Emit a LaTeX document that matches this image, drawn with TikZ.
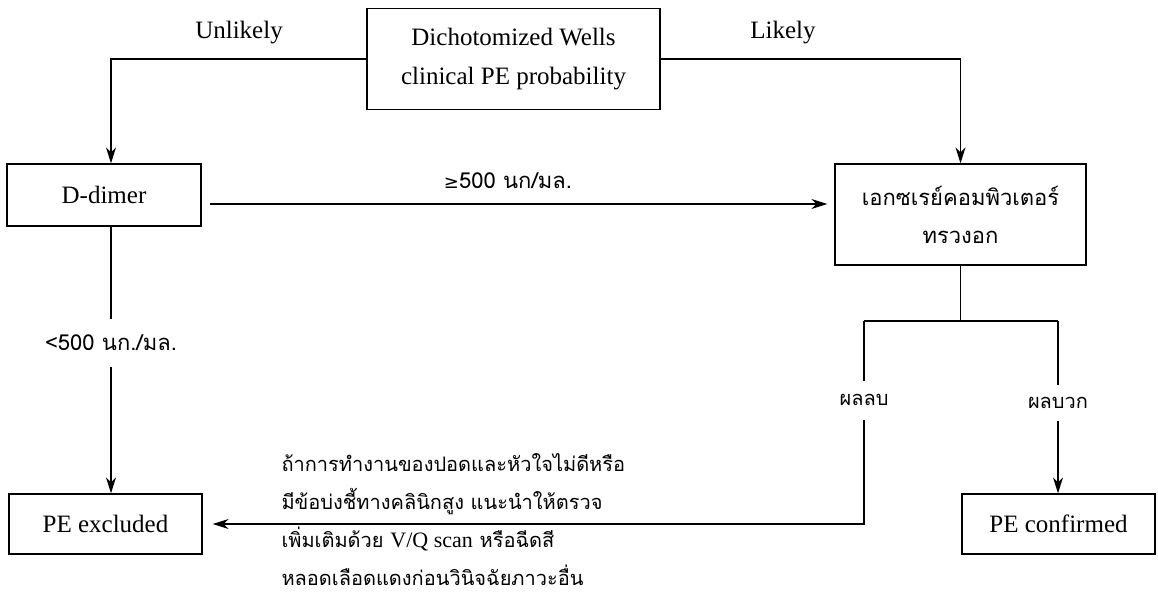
\documentclass[tikz,border=0pt]{standalone}
\usepackage{fontspec}
\setmainfont{Liberation Serif}
\newfontfamily\thai[Script=Thai]{Loma}
\newfontfamily\dvs{DejaVu Sans}
\usetikzlibrary{arrows.meta,calc}
\begin{document}
\begin{tikzpicture}[x=1pt,y=-1pt,
  box/.style={draw,line width=1.3pt,inner sep=0pt,align=center,font=\fontsize{25}{39}\selectfont},
  ln/.style={line width=1.3pt},
  arr/.style={ln,-{Stealth[length=16pt,width=10pt,inset=5pt]}},
  lab/.style={font=\fontsize{25}{29}\selectfont},
  tlab/.style={font=\thai\fontsize{20}{24}\selectfont},
  vlab/.style={font=\thai\fontsize{22}{26}\selectfont}]
\useasboundingbox (0,0) rectangle (1158,596);
% boxes
\node[box,minimum width=293pt,minimum height=101pt] (top) at (513.5,59) {Dichotomized Wells\\clinical PE probability};
\node[box,minimum width=194pt,minimum height=62pt] (dd) at (104,195) {D-dimer};
\node[box,minimum width=251pt,minimum height=101pt,font=\thai\fontsize{22}{38}\selectfont] (ct) at (960.5,214.5) {เอกซเรย์คอมพิวเตอร์\\ทรวงอก};
\node[box,minimum width=193pt,minimum height=60pt] (pex) at (105.5,524) {PE excluded};
\node[box,minimum width=193pt,minimum height=60pt] (pcf) at (1058.5,524) {PE confirmed};
% labels
\node[lab] (un) at (239,33) {Unlikely};
\node[lab] (li) at (783,33) {Likely};
\node[vlab] (ge) at (508,181) {{\dvs\fontsize{18}{22}\selectfont ≥}500 นก/มล.};
\node[vlab] (lt) at (111,343) {<500 นก./มล.};
\node[tlab] (neg) at (864,400) {ผลลบ};
\node[tlab] (pos) at (1058,403) {ผลบวก};
\node[anchor=west,align=left,font=\thai\fontsize{20}{38}\selectfont] (note) at (278,520)
  {ถ้าการทำงานของปอดและหัวใจไม่ดีหรือ\\มีข้อบ่งชี้ทางคลินิกสูง แนะนำให้ตรวจ\\เพิ่มเติมด้วย {\rmfamily\fontsize{22}{38}\selectfont V/Q scan} หรือฉีดสี\\หลอดเลือดแดงก่อนวินิจฉัยภาวะอื่น};
% coordinates
\coordinate (ca) at (111,59);
\coordinate (cb) at (111,319);
\coordinate (cc) at (111,367);
\coordinate (h1) at (210,204);
\coordinate (j) at (960,321);
\coordinate (jl) at (864,321);
\coordinate (jr) at (1058,321);
\coordinate (nl1) at (864,381);
\coordinate (nl2) at (864,420);
\coordinate (pr1) at (1058,385);
\coordinate (pr2) at (1058,421);
% connectors
\draw[arr] (top.west) -| (dd.north -| ca);
\draw[arr] (top.east) -| (ct.north);
\draw[arr,shorten >=7pt] (h1) -- (h1 -| ct.west);
\draw[ln] (dd.south -| ca) -- (cb);
\draw[arr] (cc) -- (pex.north -| cc);
\draw[ln] (ct.south) -- (ct.south |- j);
\draw[ln] (jl) -- (jr);
\draw[ln] (jl) -- (nl1);
\draw[arr,shorten >=10pt] (nl2) |- (pex.east);
\draw[ln] (jr) -- (pr1);
\draw[arr] (pr2) -- (pcf.north -| pr2);
\end{tikzpicture}
\end{document}
